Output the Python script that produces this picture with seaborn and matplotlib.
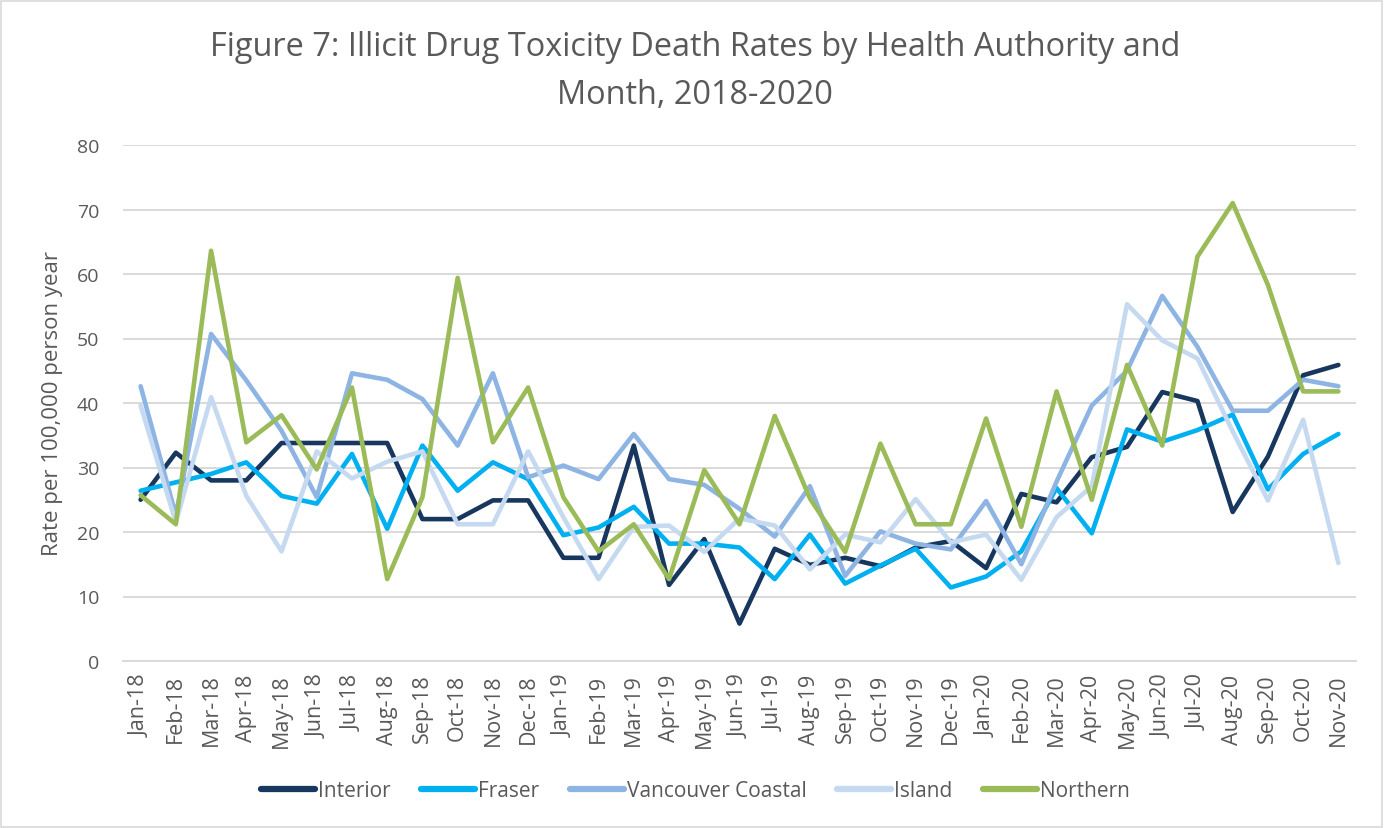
import pandas as pd
import matplotlib.pyplot as plt
import seaborn as sns
from matplotlib.patches import Rectangle

# month labels
months = ["Jan-18", "Feb-18", "Mar-18", "Apr-18", "May-18", "Jun-18", "Jul-18", "Aug-18",
          "Sep-18", "Oct-18", "Nov-18", "Dec-18", "Jan-19", "Feb-19", "Mar-19", "Apr-19",
          "May-19", "Jun-19", "Jul-19", "Aug-19", "Sep-19", "Oct-19", "Nov-19", "Dec-19",
          "Jan-20", "Feb-20", "Mar-20", "Apr-20", "May-20", "Jun-20", "Jul-20", "Aug-20",
          "Sep-20", "Oct-20", "Nov-20"]

interior = [25.0, 32.3, 28.0, 28.0, 33.8, 33.8, 33.8, 33.8, 22.0, 22.0, 24.9, 24.9,
            16.0, 16.0, 33.4, 11.8, 18.9, 5.8, 17.4, 14.9, 16.0, 14.7, 17.6, 18.6,
            14.4, 25.9, 24.6, 31.6, 33.2, 41.7, 40.3, 23.1, 31.7, 44.3, 45.9]
fraser = [26.4, 27.7, 29.0, 30.8, 25.6, 24.4, 32.1, 20.5, 33.4, 26.4, 30.8, 28.2,
          19.5, 20.7, 23.9, 18.2, 18.2, 17.6, 12.7, 19.6, 12.0, 14.8, 17.4, 11.4,
          13.1, 17.0, 26.8, 19.8, 35.9, 34.0, 35.8, 38.2, 26.6, 32.1, 35.2]
vancouver_coastal = [42.6, 22.6, 50.7, 43.5, 35.7, 25.4, 44.6, 43.6, 40.6, 33.4, 44.6, 28.5,
                     30.3, 28.2, 35.2, 28.2, 27.3, 23.6, 19.3, 27.1, 13.2, 20.1, 18.2, 17.3,
                     24.8, 15.0, 27.8, 39.6, 45.0, 56.6, 48.7, 38.8, 38.8, 43.6, 42.6]
island = [39.6, 21.5, 40.9, 25.6, 17.0, 32.5, 28.3, 30.9, 32.5, 21.2, 21.2, 32.5,
          22.3, 12.7, 20.8, 21.0, 16.9, 22.1, 21.0, 14.2, 19.6, 18.4, 25.1, 18.4,
          19.6, 12.6, 22.3, 27.1, 55.3, 49.7, 46.9, 35.6, 24.9, 37.4, 15.2]
northern = [25.7, 21.2, 63.6, 33.9, 38.1, 29.7, 42.4, 12.7, 25.4, 59.4, 33.9, 42.4,
            25.4, 17.0, 21.2, 12.7, 29.6, 21.2, 38.0, 25.2, 16.9, 33.7, 21.2, 21.2,
            37.6, 20.8, 41.8, 25.0, 45.9, 33.4, 62.7, 71.0, 58.3, 41.8, 41.8]

regions = ["Interior", "Fraser", "Vancouver Coastal", "Island", "Northern"]
colors = ["#17375E", "#00B0F0", "#8DB4E2", "#C5D9F1", "#9BBB59"]

# long format table for seaborn
series = [interior, fraser, vancouver_coastal, island, northern]
rows = []
for name, vals in zip(regions, series):
    for i, v in enumerate(vals):
        rows.append({"idx": i, "Month": months[i], "Region": name, "Rate": v})
df = pd.DataFrame(rows)

sns.set_style("white")
plt.rcParams["font.family"] = ["Open Sans", "DejaVu Sans"]
text_col = "#595959"
grid_col = "#D9D9D9"

fig = plt.figure(figsize=(13.85, 8.29), dpi=100)
ax = fig.add_axes([123 / 1385, 1 - 662 / 829, (1356 - 123) / 1385, (662 - 146) / 829])

sns.lineplot(data=df, x="idx", y="Rate", hue="Region", hue_order=regions,
             palette=colors, linewidth=3.3, ax=ax, legend=False)

ax.set_ylim(0, 80)
ax.set_xlim(-0.5, len(months) - 0.5)
ax.set_yticks(range(0, 81, 10))
ax.yaxis.grid(True, color=grid_col, linewidth=1.4)
ax.set_axisbelow(True)
for s in ["top", "right", "left"]:
    ax.spines[s].set_visible(False)
ax.spines["bottom"].set_color(grid_col)
ax.spines["bottom"].set_linewidth(1.4)

ax.set_xticks(range(len(months)))
ax.set_xticklabels(months, rotation=90)
ax.set_xticks([i - 0.5 for i in range(len(months) + 1)], minor=True)
ax.tick_params(axis="x", which="major", length=0, pad=9, labelsize=15.5, labelcolor=text_col)
ax.tick_params(axis="x", which="minor", length=6, width=1.4, color=grid_col)
ax.tick_params(axis="y", length=0, pad=17, labelsize=14, labelcolor=text_col)

ax.set_xlabel("")
ax.set_ylabel("Rate per 100,000 person year", fontsize=16, color=text_col, labelpad=10)

fig.text(0.502, 1 - 72 / 829,
         "Figure 7: Illicit Drug Toxicity Death Rates by Health Authority and\nMonth, 2018-2020",
         ha="center", va="center", fontsize=23.4, color=text_col, linespacing=1.6)

handles = [plt.Line2D([], [], color=c, linewidth=4.5, solid_capstyle="round") for c in colors]
fig.legend(handles, regions, loc="center", bbox_to_anchor=(0.502, 1 - 792 / 829), ncol=5,
           frameon=False, fontsize=15, labelcolor=text_col, handlelength=2.6,
           handletextpad=0.15, columnspacing=1.45)

fig.patches.append(Rectangle((0.001, 0.001), 0.997, 0.997, transform=fig.transFigure,
                             fill=False, edgecolor=grid_col, linewidth=1.2))

fig.savefig("out.png", dpi=100)
